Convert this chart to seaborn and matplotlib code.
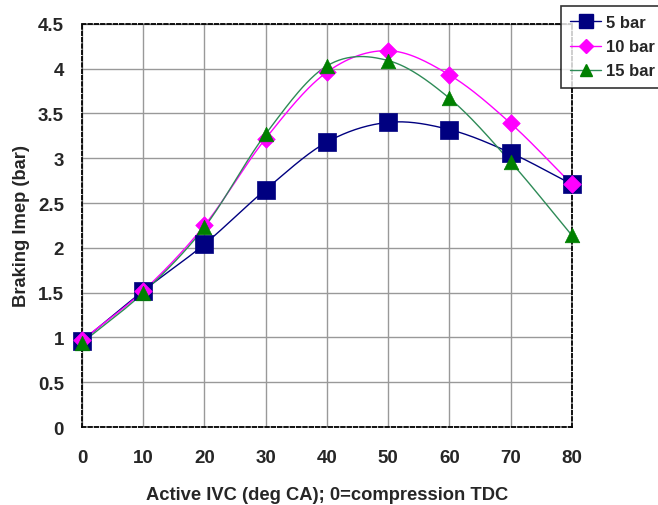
import numpy as np
import pandas as pd
import matplotlib
matplotlib.use("Agg")
import matplotlib.pyplot as plt
import seaborn as sns

ivc = [0, 10, 20, 30, 40, 50, 60, 70, 80]
bar5 = [0.96, 1.52, 2.04, 2.65, 3.18, 3.40, 3.32, 3.06, 2.71]
bar10 = [0.97, 1.52, 2.25, 3.22, 3.96, 4.20, 3.93, 3.39, 2.71]
bar15 = [0.94, 1.50, 2.23, 3.27, 4.03, 4.09, 3.67, 2.96, 2.14]
series_names = ["5 bar", "10 bar", "15 bar"]
x_ticks = [0, 10, 20, 30, 40, 50, 60, 70, 80]
y_ticks = [0, 0.5, 1, 1.5, 2, 2.5, 3, 3.5, 4, 4.5]
y_labels = ["0", "0.5", "1", "1.5", "2", "2.5", "3", "3.5", "4", "4.5"]


def smooth(x, y, n=30):
    # Catmull-Rom spline through the points (Excel-style smoothed line)
    x = np.asarray(x, float)
    y = np.asarray(y, float)
    px = np.concatenate([[2 * x[0] - x[1]], x, [2 * x[-1] - x[-2]]])
    py = np.concatenate([[2 * y[0] - y[1]], y, [2 * y[-1] - y[-2]]])
    xs, ys = [], []
    t = np.linspace(0, 1, n, endpoint=False)
    for i in range(1, len(px) - 2):
        for P, out in ((px, xs), (py, ys)):
            p0, p1, p2, p3 = P[i - 1], P[i], P[i + 1], P[i + 2]
            out.extend(0.5 * ((2 * p1) + (-p0 + p2) * t
                              + (2 * p0 - 5 * p1 + 4 * p2 - p3) * t ** 2
                              + (-p0 + 3 * p1 - 3 * p2 + p3) * t ** 3))
    xs.append(x[-1])
    ys.append(y[-1])
    return np.array(xs), np.array(ys)


sns.set_theme(style="white")
plt.rcParams["font.family"] = ["Liberation Sans", "DejaVu Sans"]
plt.rcParams["font.weight"] = "bold"

fig = plt.figure(figsize=(6.58, 5.06), dpi=100)
ax = fig.add_axes([0.1246, 0.154, 0.7444, 0.797])

line_colors = ["#000080", "#FF00FF", "#2E8B57"]
marker_colors = ["#000080", "#FF00FF", "#008000"]
markers = ["s", "D", "^"]
msizes = [150, 80, 110]

handles = []
for name, vals, lc, mc, mk, ms in zip(series_names, [bar5, bar10, bar15],
                                      line_colors, marker_colors, markers, msizes):
    sx, sy = smooth(ivc, vals)
    sns.lineplot(x=sx, y=sy, ax=ax, color=lc, linewidth=1.0, sort=False,
                 estimator=None, zorder=3)
    sns.scatterplot(x=ivc, y=vals, ax=ax, color=mc, marker=mk, s=ms,
                    edgecolor=mc, linewidth=0.5, zorder=4, clip_on=False)
    h = plt.Line2D([], [], color=lc, lw=1.0, marker=mk, markerfacecolor=mc,
                   markeredgecolor=mc, markersize=ms ** 0.5 * 0.8)
    handles.append(h)

ax.set_xlim(0, 80)
ax.set_ylim(0, 4.5)
ax.set_xticks(x_ticks)
ax.set_yticks(y_ticks)
ax.set_yticklabels(y_labels)
ax.grid(True, color="#999999", linewidth=1.0)
ax.set_axisbelow(True)
for sp in ax.spines.values():
    sp.set_linestyle((0, (2, 1.5)))
    sp.set_color("black")
    sp.set_linewidth(1.3)
ax.tick_params(axis="both", which="major", labelsize=13.5, direction="out",
               length=5, width=1.0, color="black", pad=8)
ax.tick_params(axis="x", pad=11)
for lab in ax.get_xticklabels() + ax.get_yticklabels():
    lab.set_fontweight("bold")

ax.set_xlabel("Active IVC (deg CA); 0=compression TDC", fontsize=13.2,
              fontweight="bold", labelpad=14)
ax.set_ylabel("Braking Imep (bar)", fontsize=13.2, fontweight="bold", labelpad=6)

leg = fig.legend(handles, series_names, loc="upper left",
                 bbox_to_anchor=(561 / 658, 1 - 7 / 506), frameon=True,
                 fancybox=False, edgecolor="black",
                 prop={"weight": "bold", "size": 12}, handlelength=1.85,
                 borderpad=0.55, labelspacing=0.55, handletextpad=0.3,
                 borderaxespad=0)
leg.get_frame().set_linewidth(1.2)

fig.savefig("out.png", dpi=100)
